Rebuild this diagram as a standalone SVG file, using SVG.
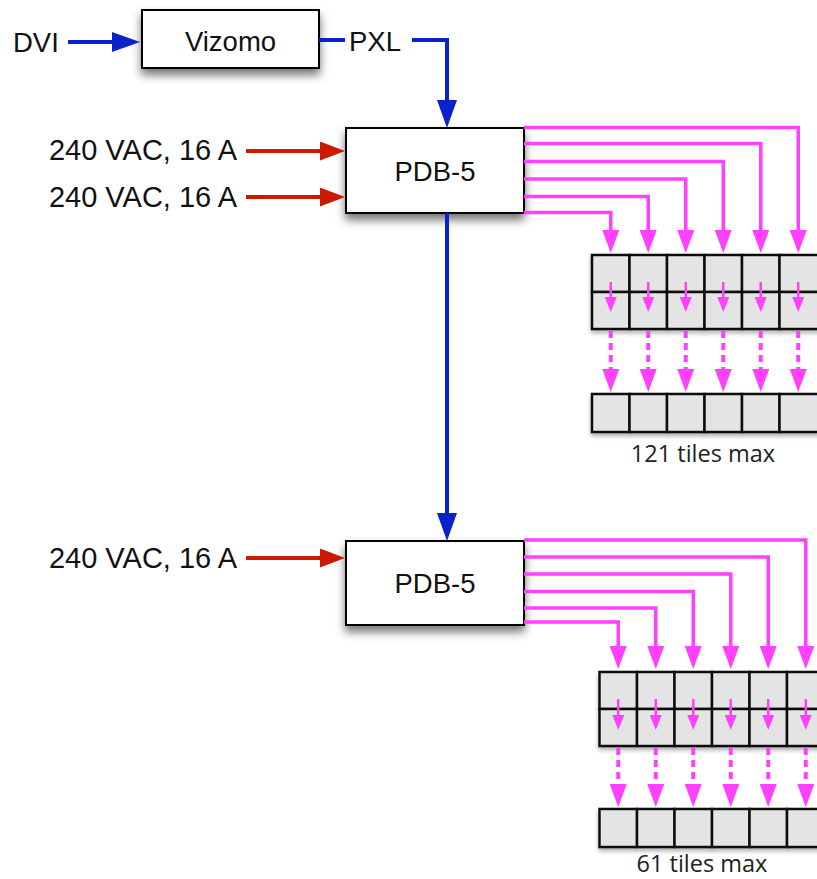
<svg xmlns="http://www.w3.org/2000/svg" width="817" height="879" viewBox="0 0 817 879">
<style>
.box{fill:#fff;stroke:#000;stroke-width:2;filter:url(#sh)}
.lbl{font-family:"Liberation Sans",Arial,sans-serif;font-size:27.5px;fill:#111}
.pwr{font-family:"Liberation Sans",Arial,sans-serif;font-size:29px;fill:#111;text-anchor:end}
.cap{font-family:"Open Sans","Liberation Sans",sans-serif;font-size:23.5px;fill:#222;text-anchor:middle}
.tile{fill:#e4e4e4;stroke:#111;stroke-width:2.5}
.blue{fill:none;stroke:#0a22cc;stroke-width:4}
.red{fill:none;stroke:#cc1a00;stroke-width:4}
.mag{fill:none;stroke:#ff40ff;stroke-width:3.5}
.mags{fill:none;stroke:#ff40ff;stroke-width:2.5}
.magd{fill:none;stroke:#ff40ff;stroke-width:4;stroke-dasharray:7 5}
</style>
<defs>
<filter id="sh" x="-20%" y="-20%" width="140%" height="160%"><feDropShadow dx="0" dy="6" stdDeviation="5" flood-color="#000" flood-opacity="0.55"/></filter>
<filter id="tsh" x="-10%" y="-10%" width="120%" height="140%"><feDropShadow dx="0" dy="3" stdDeviation="2" flood-color="#000" flood-opacity="0.3"/></filter>
<marker id="ab" markerUnits="userSpaceOnUse" markerWidth="28" markerHeight="20" refX="0" refY="10" orient="auto"><path d="M0,0 L28,10 L0,20 Z" fill="#0a22cc"/></marker>
<marker id="ar" markerUnits="userSpaceOnUse" markerWidth="25" markerHeight="19" refX="0" refY="9.5" orient="auto"><path d="M0,0 L25,9.5 L0,19 Z" fill="#cc1a00"/></marker>
<marker id="am" markerUnits="userSpaceOnUse" markerWidth="23" markerHeight="17" refX="0" refY="8.5" orient="auto"><path d="M0,0 L23,8.5 L0,17 Z" fill="#ff40ff"/></marker>
<marker id="ams" markerUnits="userSpaceOnUse" markerWidth="15" markerHeight="12" refX="0" refY="6" orient="auto"><path d="M0,0 L15,6 L0,12 Z" fill="#ff40ff"/></marker>
</defs>

<g id="label-dvi"><text class="lbl" x="13" y="52">DVI</text></g>
<g id="vizomo"><rect class="box" x="142" y="10" width="177" height="58"/><text class="lbl" x="230.5" y="51" text-anchor="middle">Vizomo</text></g>
<g id="label-pxl"><text class="lbl" x="349" y="51">PXL</text></g>
<g id="power1"><text class="pwr" x="237" y="160">240 VAC, 16 A</text></g>
<g id="power2"><text class="pwr" x="237" y="207">240 VAC, 16 A</text></g>
<g id="power3"><text class="pwr" x="237" y="568">240 VAC, 16 A</text></g>
<g id="pdb1"><rect class="box" x="346" y="128" width="178" height="85"/><text class="lbl" x="435" y="181" text-anchor="middle">PDB-5</text></g>
<g id="pdb2"><rect class="box" x="346" y="541" width="178" height="84"/><text class="lbl" x="435" y="593" text-anchor="middle">PDB-5</text></g>

<g id="tiles1" filter="url(#tsh)">
<rect class="tile" x="592" y="255" width="37.5" height="37"/><rect class="tile" x="629.5" y="255" width="37.5" height="37"/><rect class="tile" x="667" y="255" width="37.5" height="37"/><rect class="tile" x="704.5" y="255" width="37.5" height="37"/><rect class="tile" x="742" y="255" width="37.5" height="37"/><rect class="tile" x="779.5" y="255" width="40" height="37"/>
<rect class="tile" x="592" y="292" width="37.5" height="37"/><rect class="tile" x="629.5" y="292" width="37.5" height="37"/><rect class="tile" x="667" y="292" width="37.5" height="37"/><rect class="tile" x="704.5" y="292" width="37.5" height="37"/><rect class="tile" x="742" y="292" width="37.5" height="37"/><rect class="tile" x="779.5" y="292" width="40" height="37"/>
<rect class="tile" x="592" y="394" width="37.5" height="38"/><rect class="tile" x="629.5" y="394" width="37.5" height="38"/><rect class="tile" x="667" y="394" width="37.5" height="38"/><rect class="tile" x="704.5" y="394" width="37.5" height="38"/><rect class="tile" x="742" y="394" width="37.5" height="38"/><rect class="tile" x="779.5" y="394" width="40" height="38"/>
</g>
<g id="caption1"><text class="cap" x="703" y="462">121 tiles max</text></g>

<g id="tiles2" filter="url(#tsh)">
<rect class="tile" x="599.5" y="672" width="37.5" height="37"/><rect class="tile" x="637" y="672" width="37.5" height="37"/><rect class="tile" x="674.5" y="672" width="37.5" height="37"/><rect class="tile" x="712" y="672" width="37.5" height="37"/><rect class="tile" x="749.5" y="672" width="37.5" height="37"/><rect class="tile" x="787" y="672" width="37.5" height="37"/>
<rect class="tile" x="599.5" y="709" width="37.5" height="37"/><rect class="tile" x="637" y="709" width="37.5" height="37"/><rect class="tile" x="674.5" y="709" width="37.5" height="37"/><rect class="tile" x="712" y="709" width="37.5" height="37"/><rect class="tile" x="749.5" y="709" width="37.5" height="37"/><rect class="tile" x="787" y="709" width="37.5" height="37"/>
<rect class="tile" x="599.5" y="809" width="37.5" height="38"/><rect class="tile" x="637" y="809" width="37.5" height="38"/><rect class="tile" x="674.5" y="809" width="37.5" height="38"/><rect class="tile" x="712" y="809" width="37.5" height="38"/><rect class="tile" x="749.5" y="809" width="37.5" height="38"/><rect class="tile" x="787" y="809" width="37.5" height="38"/>
</g>
<g id="caption2"><text class="cap" x="702" y="872">61 tiles max</text></g>

<g id="connectors">
<path class="blue" d="M68,42 H112" marker-end="url(#ab)"/>
<path class="blue" d="M319,40 H345"/>
<path class="blue" d="M412,40 H447 V100" marker-end="url(#ab)"/>
<path class="blue" d="M447,213 V513" marker-end="url(#ab)"/>
<path class="red" d="M246,151 H320" marker-end="url(#ar)"/>
<path class="red" d="M246,197 H320" marker-end="url(#ar)"/>
<path class="red" d="M246,558 H320" marker-end="url(#ar)"/>

<path class="mag" d="M524,127.5 H798.25 V230" marker-end="url(#am)"/>
<path class="mag" d="M524,143.5 H760.75 V230" marker-end="url(#am)"/>
<path class="mag" d="M524,161.5 H723.25 V230" marker-end="url(#am)"/>
<path class="mag" d="M524,179 H685.75 V230" marker-end="url(#am)"/>
<path class="mag" d="M524,196.5 H648.25 V230" marker-end="url(#am)"/>
<path class="mag" d="M524,212.5 H610.75 V230" marker-end="url(#am)"/>

<path class="mags" d="M610.75,282 V297" marker-end="url(#ams)"/>
<path class="mags" d="M648.25,282 V297" marker-end="url(#ams)"/>
<path class="mags" d="M685.75,282 V297" marker-end="url(#ams)"/>
<path class="mags" d="M723.25,282 V297" marker-end="url(#ams)"/>
<path class="mags" d="M760.75,282 V297" marker-end="url(#ams)"/>
<path class="mags" d="M798.25,282 V297" marker-end="url(#ams)"/>

<path class="magd" d="M610.75,331 V369" marker-end="url(#am)"/>
<path class="magd" d="M648.25,331 V369" marker-end="url(#am)"/>
<path class="magd" d="M685.75,331 V369" marker-end="url(#am)"/>
<path class="magd" d="M723.25,331 V369" marker-end="url(#am)"/>
<path class="magd" d="M760.75,331 V369" marker-end="url(#am)"/>
<path class="magd" d="M798.25,331 V369" marker-end="url(#am)"/>

<path class="mag" d="M524,540 H805.75 V646" marker-end="url(#am)"/>
<path class="mag" d="M524,557 H768.25 V646" marker-end="url(#am)"/>
<path class="mag" d="M524,574 H730.75 V646" marker-end="url(#am)"/>
<path class="mag" d="M524,591.5 H693.25 V646" marker-end="url(#am)"/>
<path class="mag" d="M524,608 H655.75 V646" marker-end="url(#am)"/>
<path class="mag" d="M524,622 H618.25 V646" marker-end="url(#am)"/>

<path class="mags" d="M618.25,699 V715" marker-end="url(#ams)"/>
<path class="mags" d="M655.75,699 V715" marker-end="url(#ams)"/>
<path class="mags" d="M693.25,699 V715" marker-end="url(#ams)"/>
<path class="mags" d="M730.75,699 V715" marker-end="url(#ams)"/>
<path class="mags" d="M768.25,699 V715" marker-end="url(#ams)"/>
<path class="mags" d="M805.75,699 V715" marker-end="url(#ams)"/>

<path class="magd" d="M618.25,748 V784" marker-end="url(#am)"/>
<path class="magd" d="M655.75,748 V784" marker-end="url(#am)"/>
<path class="magd" d="M693.25,748 V784" marker-end="url(#am)"/>
<path class="magd" d="M730.75,748 V784" marker-end="url(#am)"/>
<path class="magd" d="M768.25,748 V784" marker-end="url(#am)"/>
<path class="magd" d="M805.75,748 V784" marker-end="url(#am)"/>
</g>
</svg>
